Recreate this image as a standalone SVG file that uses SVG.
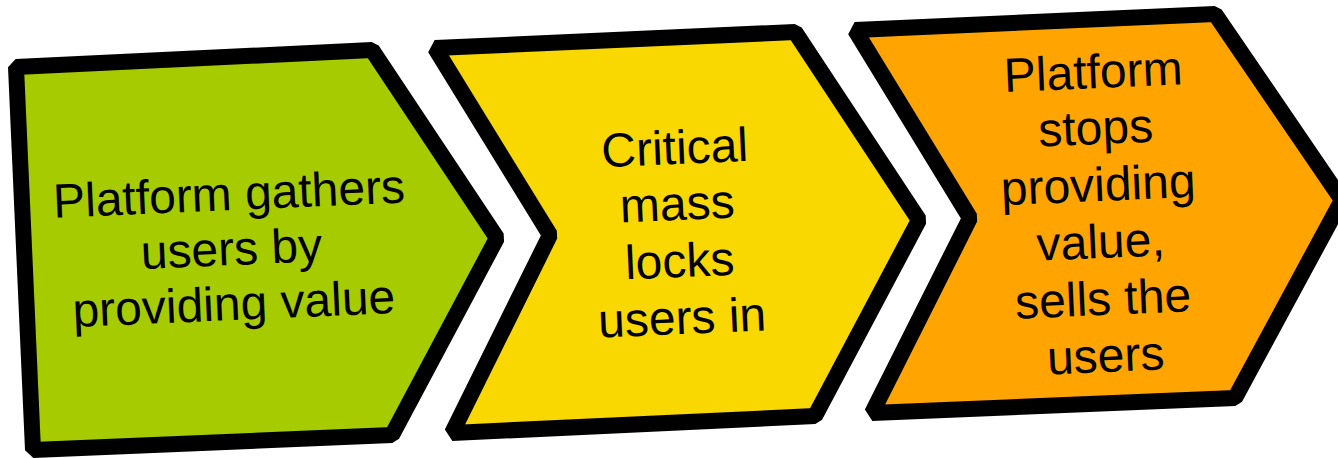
<svg xmlns="http://www.w3.org/2000/svg" width="1338" height="458" viewBox="0 0 1338 458">
<style>
.shape{stroke:#000;stroke-width:16;stroke-linejoin:bevel}
.lbl{font-family:"Liberation Sans",Arial,sans-serif;font-size:48px;fill:#000;text-anchor:middle}
</style>
<rect width="1338" height="458" fill="#fff"/>
<g id="node1">
<polygon class="shape" fill="#a6cc00" points="16,67 372,50 497,238 392,435 33,450"/>
<g transform="rotate(-2.5 233 263)">
<text class="lbl" x="232" y="210">Platform gathers</text>
<text class="lbl" x="232" y="265">users by</text>
<text class="lbl" x="232" y="320">providing value</text>
</g>
</g>
<g id="node2">
<polygon class="shape" fill="#f8d800" points="435,48 795,32 919,220 815,416 452,433 550,235"/>
<g transform="rotate(-2.5 679 247)">
<text class="lbl" x="679" y="164">Critical</text>
<text class="lbl" x="679" y="220">mass</text>
<text class="lbl" x="679" y="277">locks</text>
<text class="lbl" x="679" y="334">users in</text>
</g>
</g>
<g id="node3">
<polygon class="shape" fill="#ffa400" points="855,30 1215,14 1342,200 1235,398 872,413 970,218"/>
<g transform="rotate(-2.5 1100 228)">
<text class="lbl" x="1100" y="88">Platform</text>
<text class="lbl" x="1100" y="144">stops</text>
<text class="lbl" x="1100" y="201">providing</text>
<text class="lbl" x="1100" y="258">value,</text>
<text class="lbl" x="1100" y="315">sells the</text>
<text class="lbl" x="1100" y="372">users</text>
</g>
</g>
<g id="connectors"/>
</svg>
